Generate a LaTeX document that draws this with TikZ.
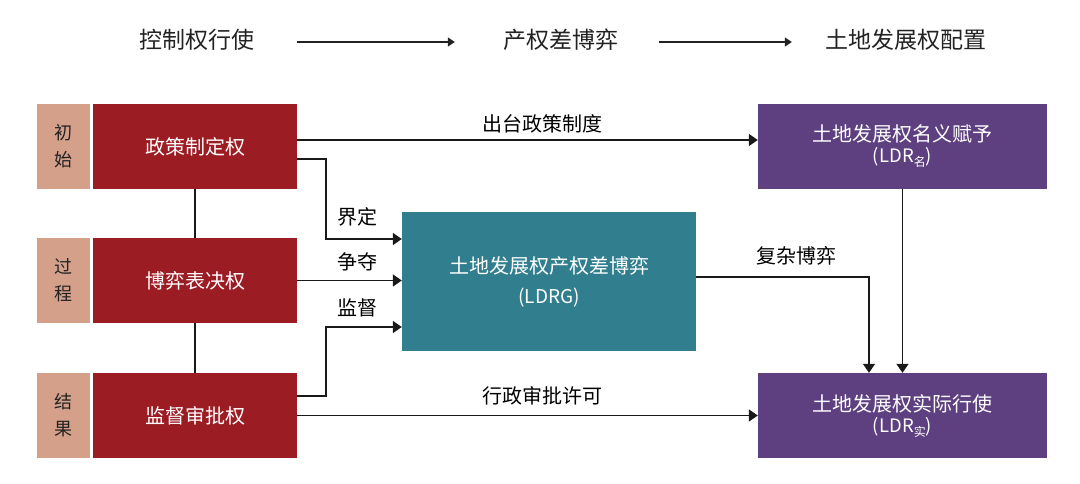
\documentclass[tikz,border=0pt]{standalone}
\usepackage{fontspec}
\setmainfont{Noto Sans CJK SC}
\usetikzlibrary{arrows.meta}
\definecolor{tanc}{RGB}{212,160,138}
\definecolor{redc}{RGB}{156,28,36}
\definecolor{tealc}{RGB}{49,126,143}
\definecolor{purc}{RGB}{94,63,128}
\definecolor{headc}{RGB}{34,34,34}
\newcommand{\lsub}[1]{\raisebox{-4pt}{\fontsize{12}{12}\selectfont #1}}
\begin{document}
\begin{tikzpicture}[x=1pt,y=-1pt,
  tanbox/.style={fill=tanc,minimum width=53pt,minimum height=85pt,inner sep=0pt,align=center,text=headc,font=\fontsize{18}{27}\selectfont},
  redbox/.style={fill=redc,minimum width=204pt,minimum height=85pt,inner sep=0pt,text=white,font=\fontsize{20}{24}\selectfont},
  tealbox/.style={fill=tealc,minimum width=294pt,minimum height=139pt,inner sep=0pt,align=center,text=white,font=\fontsize{20}{24}\selectfont},
  purbox/.style={fill=purc,minimum width=289pt,minimum height=85pt,inner sep=0pt,align=center,text=white,font=\fontsize{20}{24}\selectfont},
  head/.style={inner sep=0pt,text=headc,font=\fontsize{23}{26}\selectfont},
  lab/.style={inner sep=0pt,text=black,font=\fontsize{20}{22}\selectfont},
  conn/.style={line width=1.5pt,draw=black!90},
  arr/.style={conn,-{Triangle[length=9pt,width=12pt]}},
  harr/.style={line width=1.2pt,draw=headc,-{Triangle[length=7pt,width=9pt]}}
]
\useasboundingbox (0,0) rectangle (1080,483);
\fill[white] (0,0) rectangle (1080,483);

% header
\node[head] (h1) at (197,40) {控制权行使};
\node[head] (h2) at (561,40) {产权差博弈};
\node[head] (h3) at (906,40) {土地发展权配置};
\draw[harr] ([xshift=42.5pt,yshift=-2pt]h1.east) -- ([xshift=-48.5pt,yshift=-2pt]h2.west);
\draw[harr] ([xshift=40.5pt,yshift=-2pt]h2.east) -- ([xshift=-33.5pt,yshift=-2pt]h3.west);

% left column
\node[tanbox] (t1) at (63.5,146.5) {初\\始};
\node[redbox] (r1) at (195,146.5) {政策制定权};
\node[tanbox] (t2) at (63.5,280.5) {过\\程};
\node[redbox] (r2) at (195,280.5) {博弈表决权};
\node[tanbox] (t3) at (63.5,415.5) {结\\果};
\node[redbox] (r3) at (195,415.5) {监督审批权};

% middle
\node[tealbox] (g) at (549,281.5) {土地发展权产权差博弈\\[6pt]{\fontsize{19}{22}\selectfont (LDRG)}};

% right
\node[purbox] (p1) at (902.5,146) {土地发展权名义赋予\\[-3pt]{\fontsize{18.5}{20}\selectfont (LDR\lsub{名})}};
\node[purbox] (p2) at (902.5,415.5) {土地发展权实际行使\\[-3pt]{\fontsize{18.5}{20}\selectfont (LDR\lsub{实})}};

% vertical links
\draw[conn] (r1.south) -- (r2.north);
\draw[conn] (r2.south) -- (r3.north);

% connectors
\draw[arr] ([yshift=6.5pt]r1.east) -- ([yshift=6.5pt]r1.east -| p1.west);
\node[lab] (l1) at (542,124) {出台政策制度};

\draw[arr] ([yshift=-12.5pt]r1.east) -| ([xshift=-76pt,yshift=42.5pt]g.west) -- ([yshift=42.5pt]g.west);
\node[lab] (l2) at (357,217) {界定};

\draw[arr] (r2.east) -- (r2.east -| g.west);
\node[lab] (l3) at (357,262) {争夺};

\draw[arr] ([yshift=19.5pt]r3.east) -| ([xshift=-76pt,yshift=-45.5pt]g.west) -- ([yshift=-45.5pt]g.west);
\node[lab] (l4) at (357,308) {监督};

\draw[arr] (r3.east) -- (r3.east -| p2.west);
\node[lab] (l5) at (542,396) {行政审批许可};

\draw[arr] ([yshift=4.5pt]g.east) -| ([xshift=-33.5pt]p2.north);
\node[lab] (l6) at (796,256) {复杂博弈};

\draw[arr] (p1.south) -- (p2.north);
\end{tikzpicture}
\end{document}
